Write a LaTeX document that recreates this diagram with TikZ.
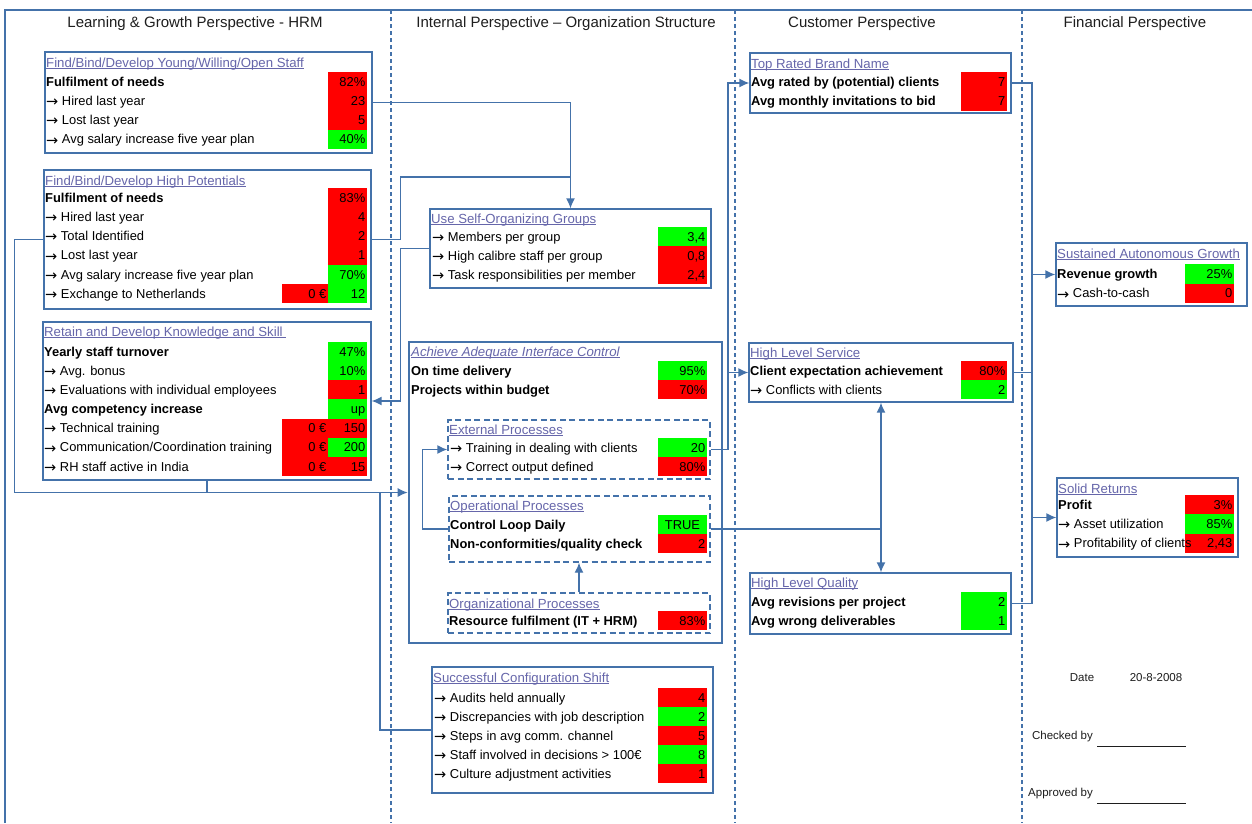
\documentclass[tikz,border=0pt]{standalone}
\usepackage{fontspec}
\setmainfont{Liberation Sans}
\newfontfamily\arrowfont{DejaVu Sans}
\usetikzlibrary{arrows.meta,fit}

\definecolor{bblue}{RGB}{68,114,170}
\definecolor{ttlcol}{RGB}{102,102,170}
\definecolor{kred}{RGB}{255,0,0}
\definecolor{kgreen}{RGB}{0,255,0}
\definecolor{hdcol}{RGB}{30,30,30}

% bullet arrow in front of sub-indicators
\newcommand{\ra}{\raisebox{-1.2pt}{\arrowfont\fontsize{14.5}{14}\selectfont →}\hspace{3.6pt}}
% underlined box title
\newsavebox{\ttlbox}
\newcommand{\boxttl}[1]{\sbox{\ttlbox}{#1}\usebox{\ttlbox}\llap{\rule[-2.2pt]{\wd\ttlbox}{0.8pt}}}

% one KPI line: label x, cell x1, cell x2, cell top, cell height, label, fill, value
\newcommand{\kpiline}[8]{%
  \fill[#7] (#2,#4) rectangle (#3,{#4+#5});
  \node[lbl] at (#1,{#4+#5/2+4.6}) {#6};
  \node[val] at ({#3-1.5},{#4+#5/2+4.6}) {#8};}
% cost cell left of a value cell: x1, x2, top, height
\newcommand{\kpieuro}[4]{%
  \fill[kred] (#1,#3) rectangle (#2,{#3+#4});
  \node[val] at ({#2-1.5},{#3+#4/2+4.6}) {0 €};}

\tikzset{
  kbox/.style={draw=bblue, line width=1.3pt, inner sep=0pt},
  kboxmain/.style={draw=bblue, line width=2.6pt, inner sep=0pt},
  kboxsub/.style={draw=bblue, line width=1.4pt, dash pattern=on 6pt off 3.5pt, inner sep=0pt},
  lbl/.style={anchor=base west, inner sep=0pt, font=\fontsize{12.9}{14}\selectfont},
  val/.style={anchor=base east, inner sep=0pt, font=\fontsize{12.9}{14}\selectfont},
  ttl/.style={anchor=base west, inner sep=0pt, text=ttlcol, font=\fontsize{13.2}{15}\selectfont},
  colhead/.style={inner sep=0pt, text=hdcol, font=\fontsize{15}{17}\selectfont},
  smalltxt/.style={inner sep=0pt, text=hdcol, font=\fontsize{11.5}{13}\selectfont},
  conn/.style={draw=bblue, line width=1.4pt},
  conarrow/.style={conn, -{Latex[length=10pt,width=9pt]}},
  colsep/.style={draw=bblue, line width=1.1pt, dash pattern=on 4pt off 3pt},
}

\begin{document}
\begin{tikzpicture}[x=1pt,y=-1pt]
\useasboundingbox (0,0) rectangle (1252,823);
\fill[white] (0,0) rectangle (1252,823);

% sheet frame and column separators
\draw[conn, line width=1.2pt] (5,823) -- (5,10) -- (1252,10);
\draw[colsep] (391,10) -- (391,823);
\draw[colsep] (735,10) -- (735,823);
\draw[colsep] (1022,10) -- (1022,823);

% column headings
\node[colhead] (h1) at (195,24) {Learning \& Growth Perspective - HRM};
\node[colhead] (h2) at (566,24) {Internal Perspective – Organization Structure};
\node[colhead] (h3) at (862,24) {Customer Perspective};
\node[colhead] (h4) at (1135,24) {Financial Perspective};

% ---------- Learning & Growth ----------
\node[kbox, fit={(45,52) (372,153)}] (boxA) {};
\node[ttl] (tA) at (46,67) {\boxttl{Find/Bind/Develop Young/Willing/Open Staff}};
\kpiline{46}{328}{367}{72}{19.25}{\textbf{Fulfilment of needs}}{kred}{82\%}
\kpiline{46}{328}{367}{91.25}{19.25}{\ra Hired last year}{kred}{23}
\kpiline{46}{328}{367}{110.5}{19.25}{\ra Lost last year}{kred}{5}
\kpiline{46}{328}{367}{129.75}{19.25}{\ra Avg salary increase five year plan}{kgreen}{40\%}

\node[kbox, fit={(44,170) (371,309)}] (boxB) {};
\node[ttl] (tB) at (45,185) {\boxttl{Find/Bind/Develop High Potentials}};
\kpiline{45}{328}{367}{188}{19.2}{\textbf{Fulfilment of needs}}{kred}{83\%}
\kpiline{45}{328}{367}{207.2}{19.2}{\ra Hired last year}{kred}{4}
\kpiline{45}{328}{367}{226.4}{19.2}{\ra Total Identified}{kred}{2}
\kpiline{45}{328}{367}{245.6}{19.2}{\ra Lost last year}{kred}{1}
\kpiline{45}{328}{367}{264.8}{19.2}{\ra Avg salary increase five year plan}{kgreen}{70\%}
\kpiline{45}{328}{367}{284}{19.2}{\ra Exchange to Netherlands}{kgreen}{12}
\kpieuro{282}{328}{284}{19.2}

\node[kbox, fit={(43,322) (371,480)}] (boxC) {};
\node[ttl] (tC) at (44,336) {\boxttl{Retain and Develop Knowledge and Skill }};
\kpiline{44}{328}{367}{342}{19.15}{\textbf{Yearly staff turnover}}{kgreen}{47\%}
\kpiline{44}{328}{367}{361.15}{19.15}{\ra Avg. bonus}{kgreen}{10\%}
\kpiline{44}{328}{367}{380.3}{19.15}{\ra Evaluations with individual employees}{kred}{1}
\kpiline{44}{328}{367}{399.45}{19.15}{\textbf{Avg competency increase}}{kgreen}{up}
\kpieuro{282}{328}{418.6}{19.15}
\kpieuro{282}{328}{437.75}{19.15}
\kpieuro{282}{328}{456.9}{19.15}
\kpiline{44}{328}{367}{418.6}{19.15}{\ra Technical training}{kred}{150}
\kpiline{44}{328}{367}{437.75}{19.15}{\ra Communication/Coordination training}{kgreen}{200}
\kpiline{44}{328}{367}{456.9}{19.15}{\ra RH staff active in India}{kred}{15}

% ---------- Internal ----------
\node[kbox, fit={(430,209) (711,288)}] (boxD) {};
\node[ttl] (tD) at (431,223) {\boxttl{Use Self-Organizing Groups}};
\kpiline{432}{658}{707}{227}{19}{\ra Members per group}{kgreen}{3,4}
\kpiline{432}{658}{707}{246}{19}{\ra High calibre staff per group}{kred}{0,8}
\kpiline{432}{658}{707}{265}{19}{\ra Task responsibilities per member}{kred}{2,4}

\node[kboxmain, fit={(409,342) (722,643)}] (boxE) {};
\node[ttl] (tE) at (411,356) {\boxttl{\textit{Achieve Adequate Interface Control}}};
\kpiline{411}{658}{707}{361}{19}{\textbf{On time delivery}}{kgreen}{95\%}
\kpiline{411}{658}{707}{380}{19}{\textbf{Projects within budget}}{kred}{70\%}

\node[kboxsub, fit={(448,420) (710,479)}] (boxEone) {};
\node[ttl] (tEone) at (449,434) {\boxttl{External Processes}};
\kpiline{450}{658}{707}{438}{19}{\ra Training in dealing with clients}{kgreen}{20}
\kpiline{450}{658}{707}{457}{19}{\ra Correct output defined}{kred}{80\%}

\node[kboxsub, fit={(449,496) (710,562)}] (boxEtwo) {};
\node[ttl] (tEtwo) at (450,510) {\boxttl{Operational Processes}};
\fill[kgreen] (658,515) rectangle (707,534);
\node[lbl] (cld) at (450,529.1) {\textbf{Control Loop Daily}};
\node[inner sep=0pt, anchor=base, font=\fontsize{12.9}{14}\selectfont] (cldv) at (682.5,529.1) {TRUE};
\kpiline{450}{658}{707}{534}{19}{\textbf{Non-conformities/quality check}}{kred}{2}

\node[kboxsub, fit={(448,593) (710,633)}] (boxEthree) {};
\node[ttl] (tEthree) at (449,608) {\boxttl{Organizational Processes}};
\kpiline{449}{658}{707}{611}{19}{\textbf{Resource fulfilment (IT + HRM)}}{kred}{83\%}

\node[kbox, fit={(432,667) (713,793)}] (boxF) {};
\node[ttl] (tF) at (433,682) {\boxttl{Successful Configuration Shift}};
\kpiline{434}{658}{707}{688}{19}{\ra Audits held annually}{kred}{4}
\kpiline{434}{658}{707}{707}{19}{\ra Discrepancies with job description}{kgreen}{2}
\kpiline{434}{658}{707}{726}{19}{\ra Steps in avg comm. channel}{kred}{5}
\kpiline{434}{658}{707}{745}{19}{\ra Staff involved in decisions > 100€}{kgreen}{8}
\kpiline{434}{658}{707}{764}{19}{\ra Culture adjustment activities}{kred}{1}

% ---------- Customer ----------
\node[kbox, fit={(750,53) (1011,113)}] (boxG) {};
\node[ttl] (tG) at (751,68) {\boxttl{Top Rated Brand Name}};
\kpiline{751}{961}{1007}{72}{19.5}{\textbf{Avg rated by (potential) clients}}{kred}{7}
\kpiline{751}{961}{1007}{91.5}{19.5}{\textbf{Avg monthly invitations to bid}}{kred}{7}

\node[kbox, fit={(749,343) (1013,402)}] (boxH) {};
\node[ttl] (tH) at (750,357) {\boxttl{High Level Service}};
\kpiline{750}{961}{1007}{361}{19}{\textbf{Client expectation achievement}}{kred}{80\%}
\kpiline{750}{961}{1007}{380}{19}{\ra Conflicts with clients}{kgreen}{2}

\node[kbox, fit={(750,573) (1011,634)}] (boxI) {};
\node[ttl] (tI) at (751,587) {\boxttl{High Level Quality}};
\kpiline{751}{961}{1007}{592}{19}{\textbf{Avg revisions per project}}{kgreen}{2}
\kpiline{751}{961}{1007}{611}{19}{\textbf{Avg wrong deliverables}}{kgreen}{1}

% ---------- Financial ----------
\node[kbox, fit={(1056,243) (1247,306)}] (boxJ) {};
\node[ttl] (tJ) at (1057,258) {\boxttl{Sustained Autonomous Growth}};
\kpiline{1057}{1185}{1234}{264}{19.5}{\textbf{Revenue growth}}{kgreen}{25\%}
\kpiline{1057}{1185}{1234}{283.5}{19.5}{\ra Cash-to-cash}{kred}{0}

\node[kbox, fit={(1057,478) (1238,557)}] (boxK) {};
\node[ttl] (tK) at (1058,493) {\boxttl{Solid Returns}};
\kpiline{1058}{1185}{1234}{495}{19.3}{\textbf{Profit}}{kred}{3\%}
\kpiline{1058}{1185}{1234}{514.3}{19.3}{\ra Asset utilization}{kgreen}{85\%}
\kpiline{1058}{1185}{1234}{533.6}{19.3}{\ra Profitability of clients}{kred}{2,43}

% sign-off block
\node[smalltxt] (dlbl) at (1082,678) {Date};
\node[smalltxt] (dval) at (1156,678) {20-8-2008};
\node[smalltxt, anchor=east] (chk) at (1093,737) {Checked by};
\node[smalltxt, anchor=east] (apr) at (1093,794) {Approved by};
\draw[hdcol, line width=0.9pt] (1097,746) -- (1186,746);
\draw[hdcol, line width=0.9pt] (1097,803) -- (1186,803);

% ---------- connectors ----------
\coordinate (jAB) at (570.5,177);
\draw[conarrow] (boxA.east) -| (boxD.north);
\draw[conn] (boxB.east) -- ++(29,0) |- (jAB);
\draw[conarrow] (boxD.west) -- ++(-29,0) |- (boxC.east);
\draw[conarrow] (boxB.west) -- ++(-29,0) |- (boxE.west);
\draw[conn] (boxC.south) -- (boxC.south |- boxE.west);
\coordinate (jF) at (380,492.5);
\draw[conn] (jF) |- (boxF.west);
\draw[conarrow] (boxEtwo.west) -- ++(-26,0) |- (boxEone.west);
\draw[conarrow] (boxEthree.north) -- (boxEthree.north |- boxEtwo.south);
\coordinate (busE) at (728,0);
\draw[conarrow] (boxEone.east) -| (busE |- boxG.west) -- (boxG.west);
\draw[conarrow] (busE |- boxH.west) -- (boxH.west);
\draw[conn] (boxEtwo.east) -- (boxEtwo.east -| boxH.south);
\draw[conn, {Latex[length=10pt,width=9pt]}-{Latex[length=10pt,width=9pt]}] (boxH.south) -- (boxH.south |- boxI.north);
\coordinate (busR) at (1032,0);
\draw[conn] (boxG.east) -| (busR |- boxI.east) -- (boxI.east);
\draw[conn] (boxH.east) -- (boxH.east -| busR);
\draw[conarrow] (busR |- boxJ.west) -- (boxJ.west);
\draw[conarrow] (busR |- boxK.west) -- (boxK.west);
\end{tikzpicture}
\end{document}
